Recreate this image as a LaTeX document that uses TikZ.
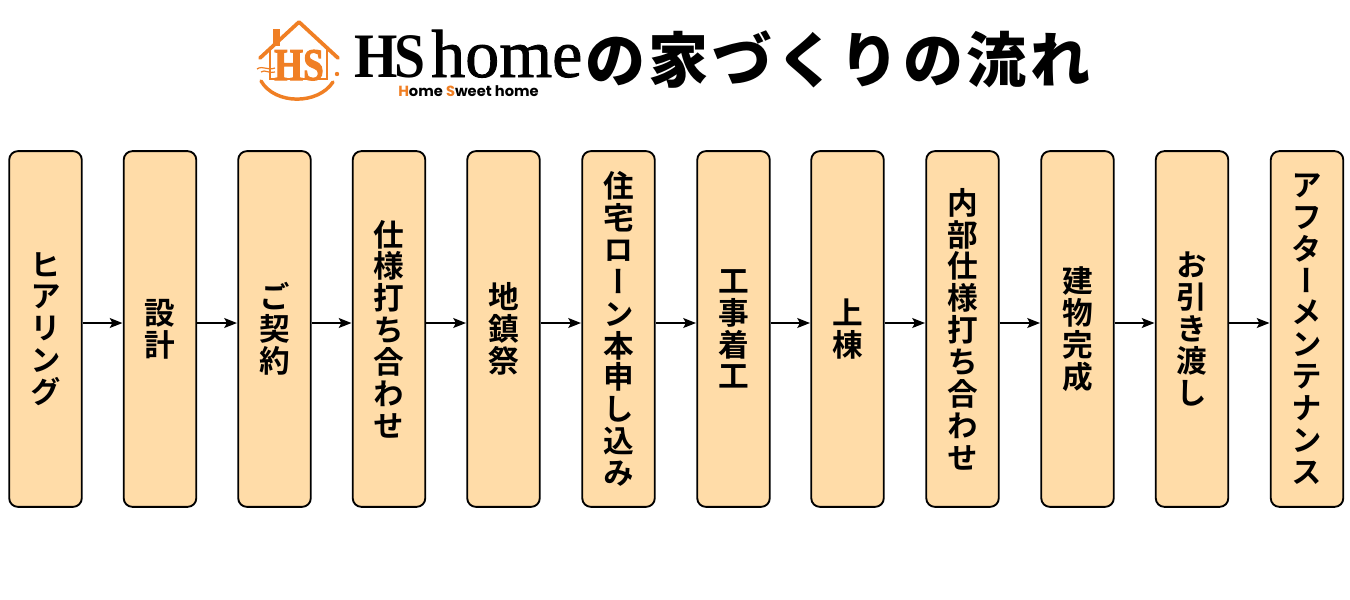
\documentclass[tikz,border=0pt]{standalone}
\usepackage{fontspec}
\newfontfamily\jpb[RawFeature={+vert}]{Noto Sans CJK JP Bold}
\newfontfamily\jpt[LetterSpace=6]{Noto Sans CJK JP Black}
\setmainfont{Liberation Serif}
\newfontfamily\serb{Liberation Serif Bold}
\newfontfamily\serh[FakeBold=2.5]{Liberation Serif Bold}
\newfontfamily\serr[FakeBold=1.2]{Liberation Serif}
\newfontfamily\popb{Poppins Bold}
\usetikzlibrary{arrows.meta}
\definecolor{boxfill}{HTML}{FFDCA8}
\definecolor{logo}{HTML}{F07F24}
\tikzset{x=0.75pt,y=-0.75pt,
 stepbox/.style={draw=black,line width=1.4pt,rounded corners=6.5pt,fill=boxfill,minimum width=54.4pt,minimum height=266.8pt,inner sep=0pt},
 flow/.style={draw=black,line width=0.9pt,-{Stealth[length=9.5pt,width=7.5pt,inset=2pt]},shorten >=0.3pt,shorten <=0pt},
 steptext/.style={font=\fontsize{23}{23.9}\jpb,align=center,inner sep=0pt},
 logoline/.style={draw=logo,line width=2.8pt,line cap=round,line join=round}}
\begin{document}
\begin{tikzpicture}
\useasboundingbox (0,0) rectangle (1350,600);
\foreach \n/\x in {a/45.5,b/160,c/274.5,d/389,e/503.5,f/618.5,g/733.5,h/847.5,i/962.5,j/1077.5,k/1192,l/1307}{
 \node[stepbox] (\n) at (\x,329) {};
}
\foreach \n/\x/\t in {
a/46/{ヒ\\ア\\リ\\ン\\グ},
b/160/{設\\計},
c/275/{ご\\契\\約},
d/389/{仕\\様\\打\\ち\\合\\わ\\せ},
e/504/{地\\鎮\\祭},
f/619/{住\\宅\\ロ\\ー\\ン\\本\\申\\し\\込\\み},
g/734/{工\\事\\着\\工},
h/848/{上\\棟},
i/963/{内\\部\\仕\\様\\打\\ち\\合\\わ\\せ},
j/1078/{建\\物\\完\\成},
k/1192/{お\\引\\き\\渡\\し},
l/1307/{ア\\フ\\タ\\ー\\メ\\ン\\テ\\ナ\\ン\\ス}}{
 \node[steptext] (t\n) at (\x,329) {\t};
}
\foreach \p/\q in {a/b,b/c,c/d,d/e,e/f,f/g,g/h,h/i,i/j,j/k,k/l}{
 \draw[flow] ([yshift=4.5pt]\p.east) -- ([yshift=4.5pt]\q.west);
}
% logo
\fill[logo] (273,29) rectangle (280,46);
\draw[logoline] (260,58) -- (299,22) -- (338,58);
\draw[draw=logo,line width=1.4pt] (270,47) -- (270,79) -- (327,79) -- (327,47);
\draw[logoline,line width=2.6pt] (261,81) .. controls (275,105) and (318,105) .. (333,82);
\fill[logo] (337,74) circle (2.2);
\draw[draw=logo,line width=0.9pt] (257,69) .. controls (263,65) and (267,71) .. (275,68);
\draw[draw=logo,line width=0.9pt] (261,72) .. controls (265,69) and (269,74) .. (275,72);
\node[text=logo,inner sep=0pt,anchor=base] (hs) at (299,80) {\scalebox{0.82}[1]{\fontsize{34}{34}\serh HS}};
% title
\node[inner sep=0pt,anchor=base west] (brand) at (354,77) {\scalebox{0.88}[1]{\fontsize{47.5}{47.5}\serb H\kern-3pt S}};
\node[inner sep=0pt,anchor=base west] (home) at (431,77) {\fontsize{51}{51}\serr home};
\node[font=\fontsize{11}{11}\popb,inner sep=0pt,anchor=base west] (sub) at (398,96.5) {\textcolor{logo}{H}ome \textcolor{logo}{S}weet home};
\node[font=\fontsize{45}{45}\jpt,inner sep=0pt,anchor=west] (title) at (585,60) {の家づくりの流れ};
\end{tikzpicture}
\end{document}
